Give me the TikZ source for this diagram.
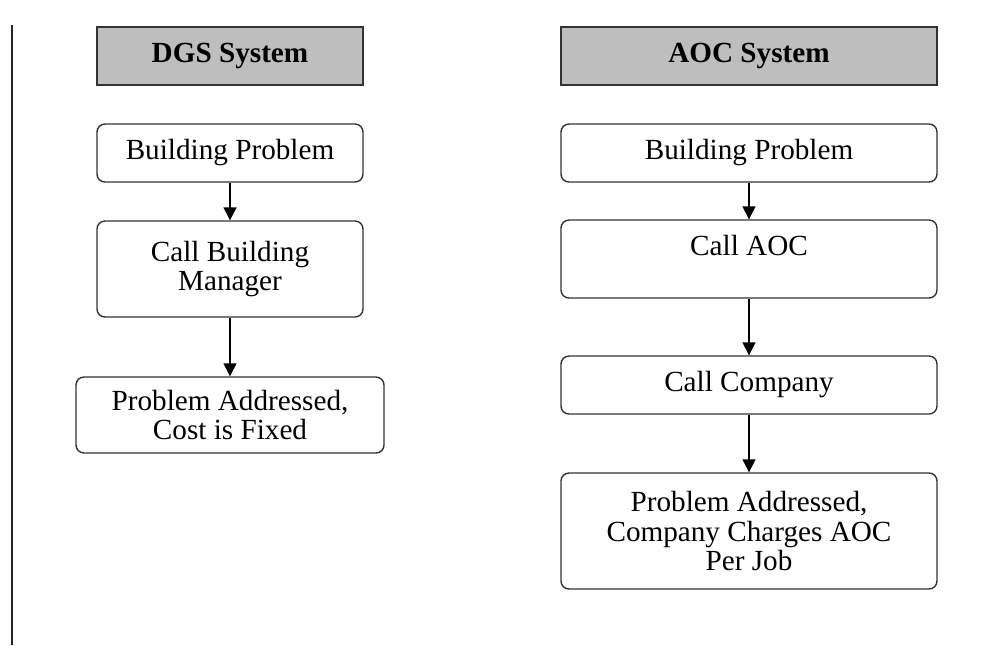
\documentclass[tikz,border=0pt]{standalone}
\usepackage{fontspec}
\setmainfont{Liberation Serif}
\usetikzlibrary{arrows.meta}

\begin{document}
\begin{tikzpicture}[x=0.5pt, y=-0.5pt,
        every node/.style = {font=\fontsize{14.6}{14.8}\selectfont, align=center, inner sep=0pt},
        head/.style = {draw=black!80, line width=0.7pt, fill={rgb,255:red,190;green,190;blue,190},
                       minimum height=29pt, font=\fontsize{14.6}{14.8}\selectfont\bfseries},
        main/.style = {draw=black!80, line width=0.7pt, rounded corners=4pt, fill=white},
        arr/.style = {line width=0.7pt, -{Triangle[length=6.5pt, width=6.5pt]}}]
    \useasboundingbox (0,0) rectangle (997,645);
    % rule on the left
    \coordinate (t) at (12,25);
    \coordinate (b) at (12,645);
    \draw[line width=1pt, black!85] (t) -- (b);

    % DGS column
    \node[head, minimum width=133pt] (dgs) at (230,56) {DGS System};
    \node[main, minimum width=133pt, minimum height=29pt] (d1) at (230,153) {Building Problem};
    \node[main, minimum width=133pt, minimum height=48pt] (d2) at (230,269) {Call Building\\Manager};
    \node[main, minimum width=154pt, minimum height=38pt] (d3) at (230,415) {Problem Addressed,\\Cost is Fixed};
    \path[arr] (d1) edge (d2);
    \path[arr] (d2) edge (d3);

    % AOC column
    \node[head, minimum width=188pt] (aoc) at (749,56) {AOC System};
    \node[main, minimum width=188pt, minimum height=29pt] (a1) at (749,153) {Building Problem};
    \node[main, minimum width=188pt, minimum height=39pt, text height=10pt, text depth=14pt] (a2) at (749,259) {Call AOC};
    \node[main, minimum width=188pt, minimum height=29pt] (a3) at (749,385) {Call Company};
    \node[main, minimum width=188pt, minimum height=58pt] (a4) at (749,531) {Problem Addressed,\\Company Charges AOC\\Per Job};
    \path[arr] (a1) edge (a2);
    \path[arr] (a2) edge (a3);
    \path[arr] (a3) edge (a4);
\end{tikzpicture}
\end{document}
